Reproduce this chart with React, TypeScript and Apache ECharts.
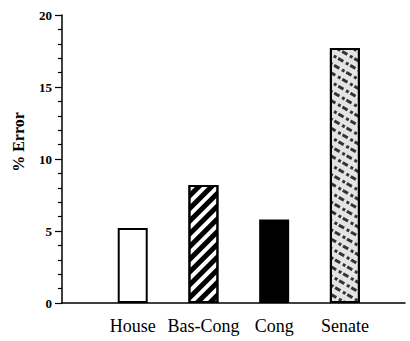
import React, { useEffect, useRef } from "react";
import * as echarts from "echarts";

const categories = ["House", "Bas-Cong", "Cong", "Senate"];
const values = [5.2, 8.2, 5.8, 17.7];
const yTicks = [0, 5, 10, 15, 20];

const SERIF = "Liberation Serif";

export default function App() {
  const ref = useRef<HTMLDivElement>(null);
  useEffect(() => {
    if (!ref.current) return;
    const chart = echarts.init(ref.current, null, { renderer: "svg" });
    const styles = [
      { color: "#ffffff", borderColor: "#000", borderWidth: 2 },
      {
        color: "#ffffff",
        borderColor: "#000",
        borderWidth: 2,
        decal: {
          symbol: "rect",
          symbolSize: 1,
          color: "#000",
          dashArrayX: [1, 0],
          dashArrayY: [5, 4],
          rotation: -Math.PI / 4,
        },
      },
      { color: "#000000", borderColor: "#000", borderWidth: 2 },
      {
        color: "#e4e4e4",
        borderColor: "#000",
        borderWidth: 2,
        decal: {
          symbol: "rect",
          symbolSize: 1,
          color: "#333",
          dashArrayX: [[6, 3, 3, 2]],
          dashArrayY: [3, 5],
          rotation: Math.PI / 6,
        },
      },
    ];
    const data = categories.map((c, i) => ({
      value: [i + 1, values[i]],
      name: c,
      itemStyle: styles[i],
    }));
    chart.setOption({
      animation: false,
      backgroundColor: "#ffffff",
      grid: { left: 62, right: 5, top: 15, bottom: 38, containLabel: false, outerBoundsMode: "none" },
      xAxis: {
        type: "value",
        min: 0,
        max: 4.85,
        interval: 1,
        splitLine: { show: false },
        axisLine: { show: true, onZero: false, lineStyle: { color: "#000", width: 1.5 } },
        axisTick: { show: false },
        axisLabel: {
          margin: 14,
          fontFamily: SERIF,
          fontSize: 18,
          color: "#000",
          showMaxLabel: false,
          showMinLabel: false,
          formatter: (v: number) =>
            Number.isInteger(v) && v >= 1 && v <= categories.length ? categories[v - 1] : "",
        },
      },
      yAxis: {
        type: "value",
        min: yTicks[0],
        max: yTicks[yTicks.length - 1],
        interval: 5,
        splitLine: { show: false },
        axisLine: { show: true, lineStyle: { color: "#000", width: 1.5 } },
        axisTick: { show: true, length: 7, lineStyle: { color: "#000", width: 1.2 } },
        minorTick: { show: true, splitNumber: 5, length: 4, lineStyle: { color: "#000", width: 1.2 } },
        axisLabel: {
          margin: 10,
          fontFamily: SERIF,
          fontSize: 13,
          fontWeight: "bold",
          color: "#000",
        },
      },
      graphic: [
        {
          type: "text",
          x: 18,
          y: 142,
          rotation: Math.PI / 2,
          style: {
            text: "% Error",
            fontFamily: SERIF,
            fontSize: 16,
            fontWeight: "bold",
            fill: "#000",
            align: "center",
            verticalAlign: "middle",
          },
        },
      ],
      series: [
        {
          type: "bar",
          barWidth: 30,
          data,
        },
      ],
    });
    return () => chart.dispose();
  }, []);
  return <div ref={ref} style={{ width: 410, height: 341, position: "absolute", left: 0, top: 0 }} />;
}
